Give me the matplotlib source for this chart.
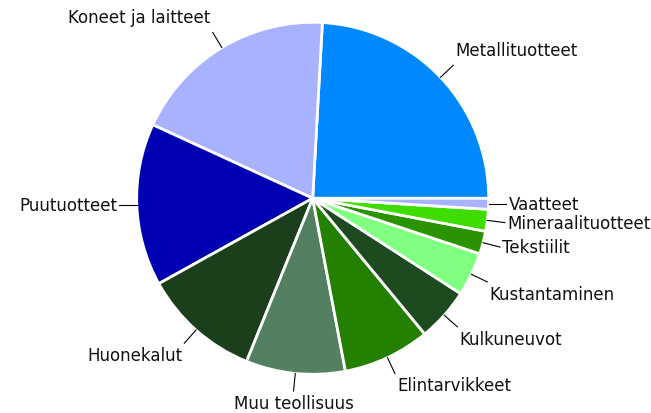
import matplotlib
matplotlib.use('Agg')
from matplotlib import pyplot as plt
import numpy as np

# toimialat ja osuudet (%)
labels = ['Metallituotteet', 'Koneet ja laitteet', 'Puutuotteet', 'Huonekalut',
          'Muu teollisuus', 'Elintarvikkeet', 'Kulkuneuvot', 'Kustantaminen',
          'Tekstiilit', 'Mineraalituotteet', 'Vaatteet']
shares = [24.1, 19.0, 14.9, 10.8, 9.1, 8.0, 4.9, 4.0, 2.1, 2.0, 1.0]
colors = ['#0088ff', '#a8b2ff', '#0000b3', '#1a3f1a', '#528060', '#238000',
          '#1e4a20', '#80ff80', '#2a9400', '#3edc00', '#a8b2ff']

fig = plt.figure(figsize=(6.51, 4.14), dpi=100)
ax = fig.add_axes([0, 0, 1, 1])
ax.axis('off')

wedges, _ = ax.pie(shares, colors=colors, startangle=0, counterclock=True,
                   radius=1.0, center=(0, 0),
                   wedgeprops=dict(edgecolor='white', linewidth=2.0))

# leader lines + labels
for w, lab in zip(wedges, labels):
    ang = np.deg2rad((w.theta1 + w.theta2) / 2)
    c, s = np.cos(ang), np.sin(ang)
    x0, y0 = c * 1.0, s * 1.0
    x1, y1 = c * 1.1, s * 1.1
    if abs(s) < 0.1:
        # almost horizontal: straight line out
        x1, y1 = np.sign(c) * 1.1, y0
    ax.plot([x0, x1], [y0, y1], color='black', lw=0.8)
    if abs(c) < 0.15:
        ha = 'center'
    elif c > 0:
        ha = 'left'
    else:
        ha = 'right'
    if s > 0.5:
        va = 'bottom'
    elif s < -0.3:
        va = 'top'
    else:
        va = 'center'
    dx = 0.0 if ha == 'center' else np.sign(c) * 0.012
    dy = 0.0
    if va == 'bottom':
        dy = 0.035
    elif va == 'top':
        dy = -0.015
    ax.text(x1 + dx, y1 + dy, lab, ha=ha, va=va, fontsize=12,
            family='DejaVu Sans', color='#111111')

cx, cy, r = 312.7, 199.3, 176.0
ax.set_xlim(-cx / r, (651 - cx) / r)
ax.set_ylim(-(414 - cy) / r, cy / r)

fig.savefig('out.png', dpi=100)
